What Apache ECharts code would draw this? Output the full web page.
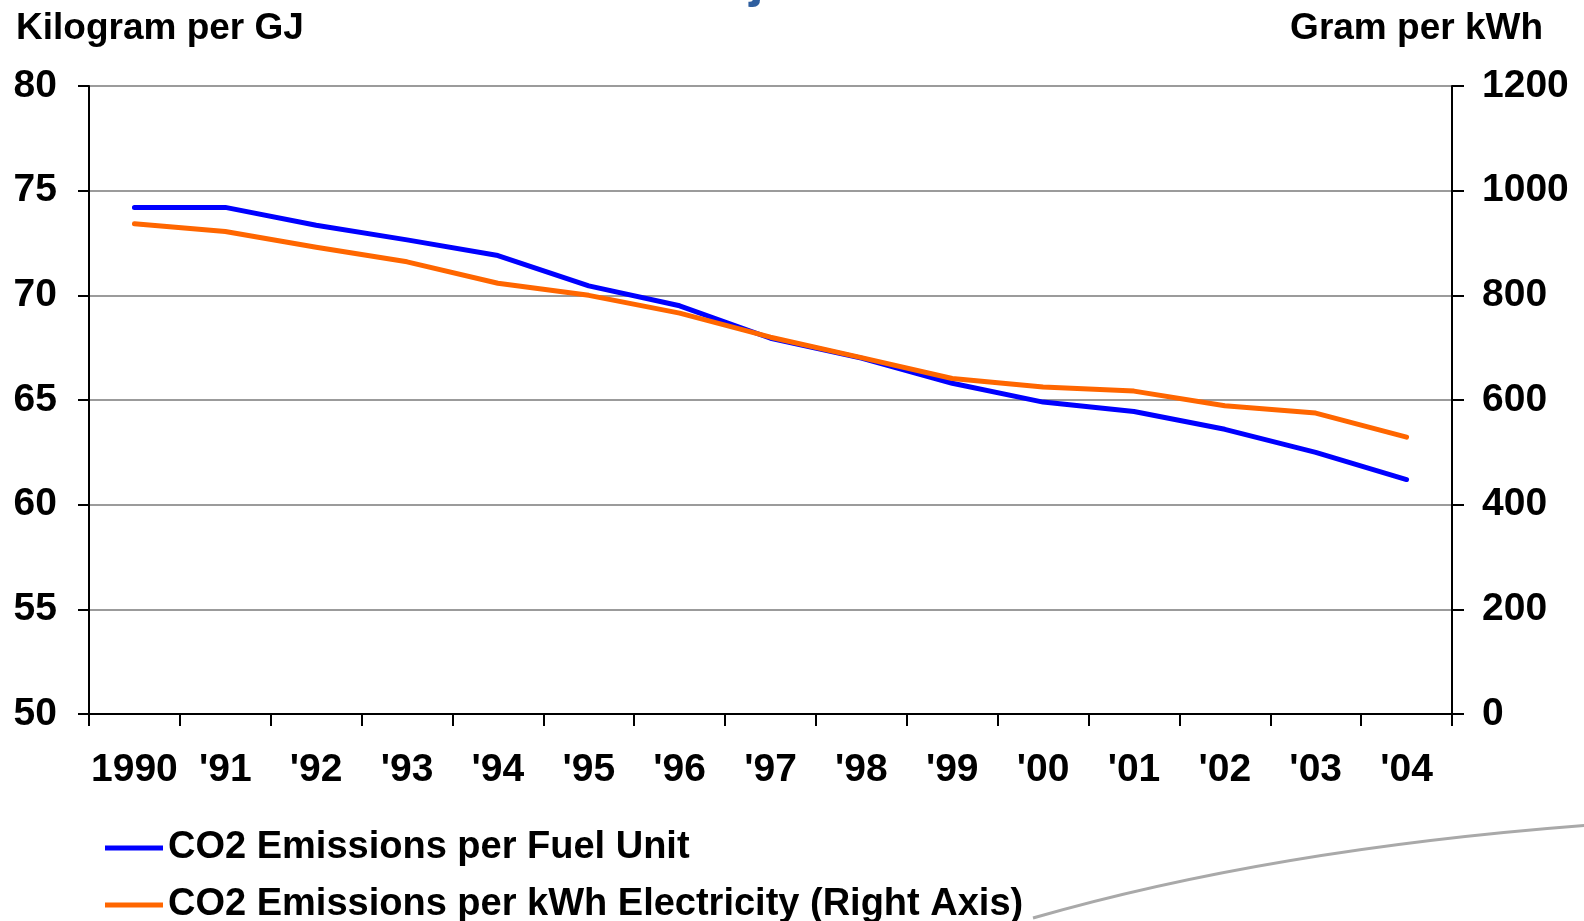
<!DOCTYPE html>
<html>
<head>
<meta charset="utf-8">
<title>CO2 Emissions</title>
<script src="https://cdn.jsdelivr.net/npm/echarts@6/dist/echarts.min.js"></script>
<style>
  html, body { margin: 0; padding: 0; background: #ffffff; }
  #chart { width: 1584px; height: 921px; }
</style>
</head>
<body>
<div id="chart"></div>
<script>
// Years on the category axis
const years = ['1990', "'91", "'92", "'93", "'94", "'95", "'96", "'97", "'98", "'99", "'00", "'01", "'02", "'03", "'04"];

// Kilogram CO2 per GJ of fuel (left axis)
const perFuelUnit = [74.2, 74.2, 73.35, 72.65, 71.9, 70.45, 69.5, 67.95, 67.0, 65.8, 64.9, 64.45, 63.6, 62.5, 61.2];

// Gram CO2 per kWh of electricity (right axis)
const perKwh = [937, 922, 892, 864, 823, 800, 766, 720, 681, 641, 625, 617, 589, 575, 529];

// Axis ranges
const leftAxis = { min: 50, max: 80, interval: 5, name: 'Kilogram per GJ' };
const rightAxis = { min: 0, max: 1200, interval: 200, name: 'Gram per kWh' };

// Series labels
const seriesNames = ['CO2 Emissions per Fuel Unit', 'CO2 Emissions per kWh Electricity (Right Axis)'];

const FONT = '"Liberation Sans", Arial, sans-serif';
const chart = echarts.init(document.getElementById('chart'), null, { renderer: 'canvas' });

const legendText = { fontFamily: FONT, fontSize: 38, fontWeight: 'bold', color: '#000', lineHeight: 40 };
const tickText = { fontFamily: FONT, fontSize: 39, fontWeight: 'bold', color: '#000' };

chart.setOption({
  backgroundColor: '#ffffff',
  animation: false,
  title: [
    { text: leftAxis.name, left: 11, top: 5,
      textStyle: { fontFamily: FONT, fontSize: 37, fontWeight: 'bold', color: '#000' } },
    { text: rightAxis.name, right: 36, top: 5,
      textStyle: { fontFamily: FONT, fontSize: 37, fontWeight: 'bold', color: '#000' } }
  ],
  // one legend per row, stacked under the plot
  legend: [
    { left: 100, top: 823, itemWidth: 58, itemHeight: 5, icon: 'rect',
      textStyle: legendText, data: [seriesNames[0]] },
    { left: 100, top: 880, itemWidth: 58, itemHeight: 5, icon: 'rect',
      textStyle: legendText, data: [seriesNames[1]] }
  ],
  grid: { left: 89, right: 132, top: 86, bottom: 207 },
  xAxis: {
    type: 'category',
    data: years,
    boundaryGap: true,
    axisLine: { lineStyle: { color: '#000', width: 2 } },
    axisTick: { show: true, length: 12, interval: 0, lineStyle: { color: '#000', width: 2 } },
    axisLabel: Object.assign({ interval: 0, margin: 37 }, tickText),
    splitLine: { show: false }
  },
  yAxis: [
    {
      type: 'value',
      position: 'left',
      min: leftAxis.min, max: leftAxis.max, interval: leftAxis.interval,
      axisLine: { show: true, lineStyle: { color: '#000', width: 2 } },
      axisTick: { show: true, length: 11, lineStyle: { color: '#000', width: 2 } },
      axisLabel: Object.assign({ margin: 32, formatter: v => String(v) }, tickText),
      splitLine: { show: true, lineStyle: { color: '#7a7a7a', width: 1.5 } }
    },
    {
      type: 'value',
      position: 'right',
      min: rightAxis.min, max: rightAxis.max, interval: rightAxis.interval,
      axisLine: { show: true, lineStyle: { color: '#000', width: 2 } },
      axisTick: { show: true, length: 12, lineStyle: { color: '#000', width: 2 } },
      axisLabel: Object.assign({ margin: 30, formatter: v => String(v) }, tickText),
      splitLine: { show: false }
    }
  ],
  series: [
    {
      name: seriesNames[0],
      type: 'line',
      yAxisIndex: 0,
      data: perFuelUnit,
      symbol: 'none',
      lineStyle: { color: '#0000ff', width: 5, cap: 'round', join: 'round' },
      itemStyle: { color: '#0000ff' },
      z: 3
    },
    {
      name: seriesNames[1],
      type: 'line',
      yAxisIndex: 1,
      data: perKwh,
      symbol: 'none',
      lineStyle: { color: '#ff6600', width: 5, cap: 'round', join: 'round' },
      itemStyle: { color: '#ff6600' },
      z: 4
    }
  ],
  graphic: [
    // slide heading, sitting above the top edge
    { type: 'text', x: 680, y: -18, silent: true,
      style: { text: 'Adjusted', font: 'bold 52px ' + FONT, fill: '#2f5f9f',
               textAlign: 'left', textVerticalAlign: 'middle', verticalAlign: 'middle' } },
    // decorative swoosh in the lower right corner
    { type: 'bezierCurve', silent: true,
      shape: { x1: 1033, y1: 918, x2: 1590, y2: 825, cpx1: 1272, cpy1: 849 },
      style: { stroke: '#a9a9a9', lineWidth: 3, fill: null } }
  ]
});
</script>
</body>
</html>
